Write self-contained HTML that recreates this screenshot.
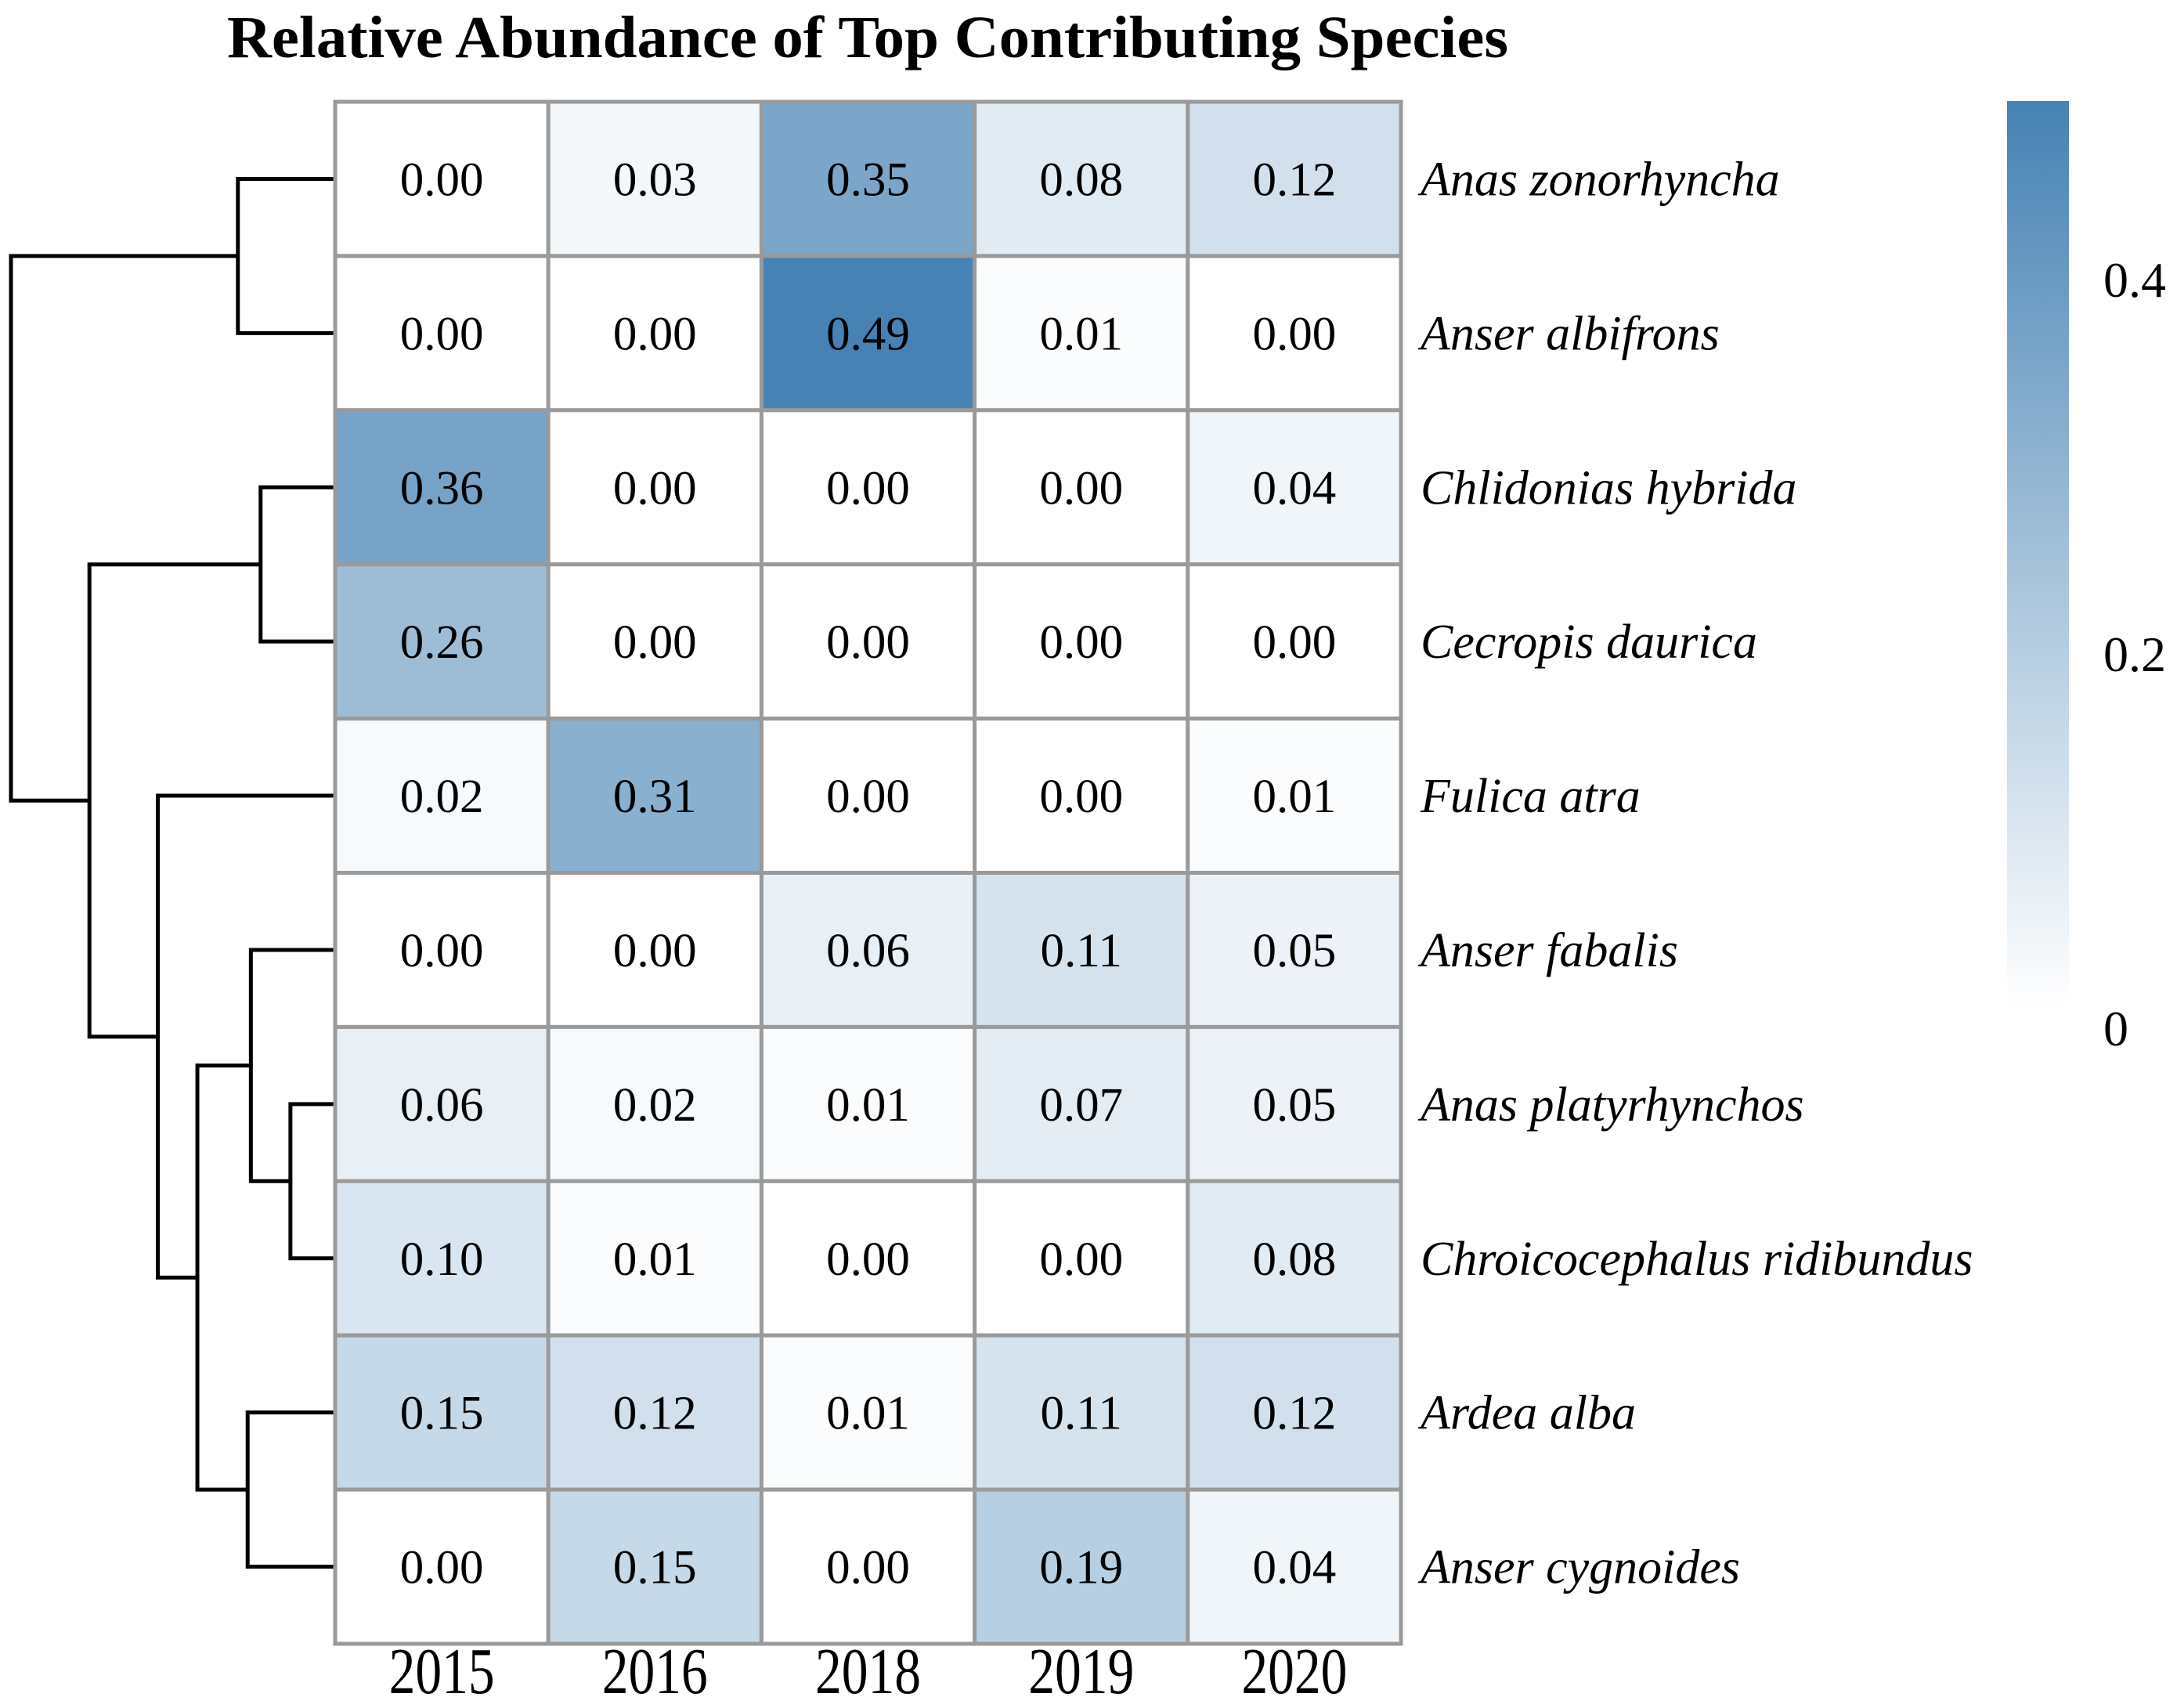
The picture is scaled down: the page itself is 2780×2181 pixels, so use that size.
<!DOCTYPE html>
<html><head><meta charset="utf-8"><style>
html,body{margin:0;padding:0;background:#fff;}
svg{display:block;font-family:"Liberation Serif",serif;}
</style></head><body>
<svg id="chart" width="2780" height="2181" viewBox="0 0 2780 2181" xmlns="http://www.w3.org/2000/svg">
<text x="1108" y="73" text-anchor="middle" font-size="76" font-weight="bold" textLength="1636" lengthAdjust="spacingAndGlyphs">Relative Abundance of Top Contributing Species</text>
<g id="dendro"></g>
<g id="cells"></g>
<g id="rowlabels"></g>
<g id="collabels"></g>
<defs><linearGradient id="cbgrad" x1="0" y1="1" x2="0" y2="0"><stop offset="0" stop-color="#ffffff"/><stop offset="1" stop-color="#4682b4"/></linearGradient></defs>
<g id="legend"></g>
</svg>
<script>
const years = ["2015","2016","2018","2019","2020"];
const species = ["Anas zonorhyncha","Anser albifrons","Chlidonias hybrida","Cecropis daurica","Fulica atra","Anser fabalis","Anas platyrhynchos","Chroicocephalus ridibundus","Ardea alba","Anser cygnoides"];
const row0 = [0.00,0.03,0.35,0.08,0.12];
const row1 = [0.00,0.00,0.49,0.01,0.00];
const row2 = [0.36,0.00,0.00,0.00,0.04];
const row3 = [0.26,0.00,0.00,0.00,0.00];
const row4 = [0.02,0.31,0.00,0.00,0.01];
const row5 = [0.00,0.00,0.06,0.11,0.05];
const row6 = [0.06,0.02,0.01,0.07,0.05];
const row7 = [0.10,0.01,0.00,0.00,0.08];
const row8 = [0.15,0.12,0.01,0.11,0.12];
const row9 = [0.00,0.15,0.00,0.19,0.04];
const values = [row0,row1,row2,row3,row4,row5,row6,row7,row8,row9];
const legendTicks = [0, 0.2, 0.4];
const legendMax = 0.49;
// dendrogram merges (1-based merge ids; negative = leaf -(i+1))
const mergeLeft  = [-1, -3, -7, -6, -9, 4, -5, 2, 1];
const mergeRight = [-2, -4, -8, 3, -10, 5, 6, 7, 8];
const mergeHeight= [0.30, 0.23, 0.138, 0.26, 0.27, 0.425, 0.547, 0.758, 1.0];
const NS="http://www.w3.org/2000/svg";
const gx0=428, cw=272.2, gy0=130, rh=196.9;
const xCell=i=>gx0+i*cw, yCell=j=>gy0+j*rh;
function color(v){const t=Math.max(0,Math.min(1,v/legendMax));
 const r=Math.round(255+(70-255)*t),g=Math.round(255+(130-255)*t),b=Math.round(255+(180-255)*t);return `rgb(${r},${g},${b})`;}
function mk(tag,attrs,parent){const e=document.createElementNS(NS,tag);for(const k in attrs)e.setAttribute(k,attrs[k]);parent.appendChild(e);return e;}
const cells=document.getElementById('cells');
values.forEach((row,j)=>row.forEach((v,i)=>{
 const r=mk('rect',{x:xCell(i),y:yCell(j),width:cw,height:rh,fill:color(v),stroke:'#9a9a9a','stroke-width':5},cells);
 
 
 const t=mk('text',{x:xCell(i)+cw/2,y:yCell(j)+rh/2+21,'text-anchor':'middle','font-size':61,fill:'#000'},cells);
 t.textContent=v.toFixed(2);
 
 
}));
const rl=document.getElementById('rowlabels');
species.forEach((s,j)=>{const t=mk('text',{x:1814,y:yCell(j)+rh/2+21,'font-size':62,'font-style':'italic'},rl);t.textContent=s;
 
 });
const cl=document.getElementById('collabels');
years.forEach((y,i)=>{const t=mk('text',{x:xCell(i)+cw/2,y:2162,'text-anchor':'middle','font-size':84,textLength:135,lengthAdjust:'spacingAndGlyphs'},cl);t.textContent=y;
 
 });
const dg=document.getElementById('dendro');
const hx=h=>gx0-h*(gx0-14);
const nodeY=[],nodeH=[];
function pos(id){if(id<0){return {y:yCell(-id-1)+rh/2,h:0};}return {y:nodeY[id-1],h:nodeH[id-1]};}
for(let m=0;m<mergeHeight.length;m++){
 const a=pos(mergeLeft[m]),b=pos(mergeRight[m]),h=mergeHeight[m],x=hx(h);
 const p=mk('path',{d:`M${hx(a.h)},${a.y}H${x}V${b.y}H${hx(b.h)}`,fill:'none',stroke:'#000','stroke-width':5},dg);
 
 
 nodeY[m]=(a.y+b.y)/2;nodeH[m]=h;
}
const lg=document.getElementById('legend');
const ly0=129, ly1=1287, lx=2563, lw=79;
const tickY=v=>1313-(v/0.2)*478;
const bar=mk('rect',{x:lx,y:ly0,width:lw,height:ly1-ly0,fill:'url(#cbgrad)'},lg);


legendTicks.forEach(v=>{const t=mk('text',{x:2686,y:tickY(v)+22,'font-size':64},lg);t.textContent=v===0?'0':String(v);
 
 });
</script>
</body></html>
